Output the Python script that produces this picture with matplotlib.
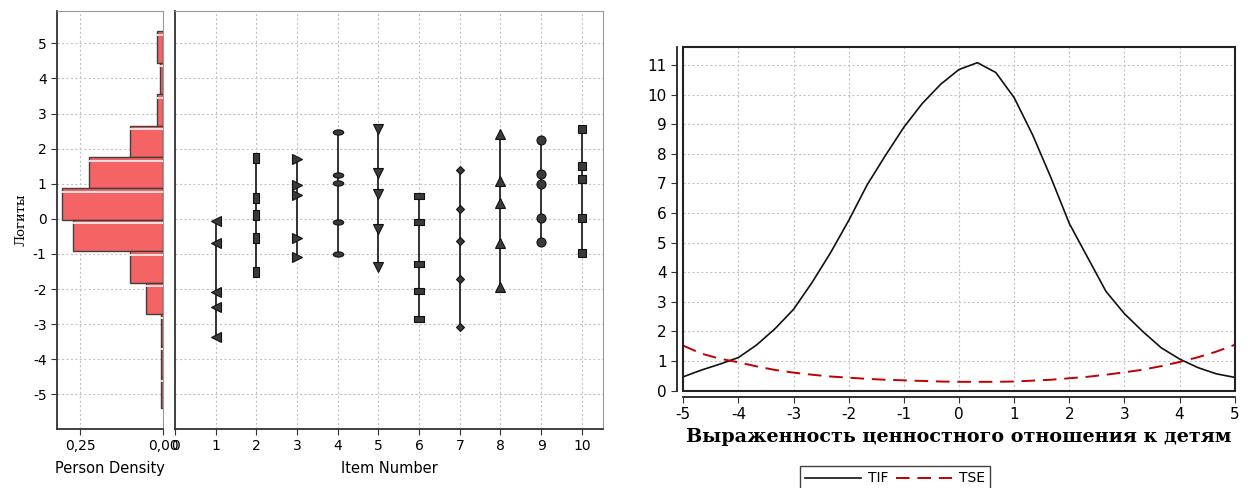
import matplotlib as mpl
mpl.use("agg")
import matplotlib.pyplot as plt
import numpy as np
from matplotlib.path import Path
from matplotlib.markers import MarkerStyle
from matplotlib.patches import Rectangle
from matplotlib.transforms import Affine2D

plt.rcParams["axes.unicode_minus"] = False

# person histogram (logit bin edges, density)
bin_edges = [5.34, 4.445, 3.55, 2.655, 1.76, 0.865, -0.03, -0.925, -1.82,
             -2.715, -3.61, -4.505, -5.4]
density = [0.018, 0.008, 0.018, 0.099, 0.223, 0.304, 0.271, 0.099, 0.051,
           0.006, 0.006, 0.006]

# item thresholds (logits) for items 1..10
items = list(range(1, 11))
thresholds = [
    [-0.06, -0.70, -2.07, -2.50, -3.37],
    [1.74, 0.59, 0.11, -0.54, -1.50],
    [1.70, 0.97, 0.67, -0.55, -1.08],
    [2.47, 1.26, 1.03, -0.09, -0.99],
    [2.57, 1.30, 0.70, -0.29, -1.36],
    [0.65, -0.09, -1.29, -2.05, -2.85],
    [1.39, 0.29, -0.62, -1.72, -3.07],
    [2.42, 1.07, 0.46, -0.70, -1.93],
    [2.24, 1.29, 1.00, 0.02, -0.65],
    [2.55, 1.51, 1.13, 0.02, -0.97],
]

# test information / standard error
theta = [-5, -4.667, -4.333, -4, -3.667, -3.333, -3, -2.667, -2.333, -2,
         -1.667, -1.333, -1, -0.667, -0.333, 0, 0.333, 0.667, 1, 1.333,
         1.667, 2, 2.333, 2.667, 3, 3.333, 3.667, 4, 4.333, 4.667, 5]
tif = [0.47, 0.70, 0.90, 1.12, 1.55, 2.10, 2.75, 3.65, 4.65, 5.75,
       6.95, 7.95, 8.90, 9.70, 10.35, 10.85, 11.08, 10.75, 9.90, 8.65,
       7.20, 5.65, 4.50, 3.35, 2.60, 2.00, 1.45, 1.07, 0.78, 0.57, 0.45]
tse = [1.52, 1.25, 1.08, 0.96, 0.82, 0.70, 0.61, 0.54, 0.48, 0.44,
       0.40, 0.37, 0.35, 0.33, 0.31, 0.30, 0.30, 0.30, 0.31, 0.34,
       0.37, 0.42, 0.47, 0.54, 0.62, 0.71, 0.83, 0.97, 1.13, 1.32, 1.55]


def rect_marker(w, h):
    verts = [(-w, -h), (w, -h), (w, h), (-w, h), (-w, -h)]
    return MarkerStyle(Path(verts, closed=True))


ellipse = MarkerStyle(Path.unit_circle().transformed(Affine2D().scale(1, 0.5)))
markers = ['<', rect_marker(0.5, 1), '>', ellipse, 'v',
           rect_marker(1, 0.5), 'D', '^', 'o', 's']
msizes = [6.5, 7.5, 6.5, 7.5, 6.5, 7.5, 4.5, 6.5, 6.5, 6]

grid_kw = dict(color="#c4c4c4", linestyle=(0, (2, 2)), linewidth=0.8)
tick_font = 10

fig = plt.figure(figsize=(12.48, 4.88), dpi=100)
H = 488.0
W = 1248.0

ax_h = fig.add_axes([57 / W, 1 - 428.5 / H, 106 / W, 417.5 / H])
ax_i = fig.add_axes([175 / W, 1 - 428.5 / H, 428 / W, 417.5 / H], sharey=ax_h)
ax_t = fig.add_axes([683.3 / W, 1 - 390.7 / H, 551.4 / W, 343.4 / H])

# --- histogram ---
lows = bin_edges[1:]
heights = [a - b for a, b in zip(bin_edges[:-1], bin_edges[1:])]
ax_h.barh(lows, density, height=heights, align="edge", color="#f56464",
          edgecolor="#404040", linewidth=1.0, zorder=3)
for lo, hg, d in zip(lows, heights, density):
    ax_h.plot([0, d], [lo + hg - 0.1] * 2, color="#ffe8e8", lw=1.3, zorder=4)
ax_h.set_xlim(0.32, 0)
ax_h.set_ylim(-5.97, 5.92)
ax_h.set_xticks([0.25, 0.0])
ax_h.set_xticklabels(["0,25", "0,00"])
ax_h.set_yticks(range(-5, 6))
ax_h.grid(True, **grid_kw)
ax_h.set_axisbelow(True)
ax_h.set_xlabel("Person Density", fontsize=10.5, labelpad=6)
ax_h.set_ylabel("Логиты", fontsize=9.5, family="DejaVu Serif", labelpad=4)
ax_h.tick_params(labelsize=tick_font, length=4, color="#333")

# --- item thresholds ---
for x, vals, m, ms in zip(items, thresholds, markers, msizes):
    ax_i.plot([x, x], [min(vals), max(vals)], color="#333333", lw=1.4, zorder=3)
    ax_i.plot([x] * len(vals), vals, linestyle="none", marker=m, ms=ms,
              mfc="#3a3a3a", mec="#111111", mew=0.8, zorder=4)
ax_i.set_xlim(0, 10.52)
ax_i.set_xticks(range(0, 11))
ax_i.grid(True, **grid_kw)
ax_i.set_axisbelow(True)
ax_i.tick_params(axis="y", left=False, labelleft=False)
ax_i.tick_params(axis="x", labelsize=tick_font, length=4, color="#333")
ax_i.set_xlabel("Item Number", fontsize=10.5, labelpad=6)

for ax in (ax_h, ax_i):
    for s in ("top", "right"):
        ax.spines[s].set_color("#9a9a9a")
    for s in ("left", "bottom"):
        ax.spines[s].set_color("#333333")
        ax.spines[s].set_linewidth(1.3)

# --- TIF / TSE ---
ax_t.plot(theta, tif, color="#111111", lw=1.2, label="TIF")
ax_t.plot(theta, tse, color="#c00000", lw=1.4, dashes=(7, 4), label="TSE")
ax_t.set_xlim(-5, 5)
ax_t.set_ylim(0, 11.6)
ax_t.set_xticks(range(-5, 6))
ax_t.set_yticks(range(0, 12))
ax_t.grid(True, **grid_kw)
ax_t.set_axisbelow(True)
for s in ("top", "right"):
    ax_t.spines[s].set_visible(False)
for s in ("left", "bottom"):
    ax_t.spines[s].set_position(("outward", 4.5))
    ax_t.spines[s].set_color("#222222")
    ax_t.spines[s].set_linewidth(1.3)
ax_t.add_patch(Rectangle((0, 0), 1, 1, transform=ax_t.transAxes, fill=False,
                         edgecolor="#222222", lw=1.5, clip_on=False, zorder=5))
ax_t.tick_params(labelsize=tick_font + 1, length=4, color="#333")
ax_t.set_xlabel("Выраженность ценностного отношения к детям",
                family="DejaVu Serif", fontweight="bold", fontsize=13.8,
                labelpad=4)

leg = fig.legend(loc="upper center", bbox_to_anchor=(895 / W, 1 - 459 / H),
                 ncol=2, fontsize=10, frameon=True, fancybox=False,
                 handlelength=4.0, columnspacing=0.6, handletextpad=0.5,
                 borderpad=0.4)
leg.get_frame().set_edgecolor("#111111")
leg.get_frame().set_linewidth(1.0)

fig.savefig("out.png", dpi=100)
